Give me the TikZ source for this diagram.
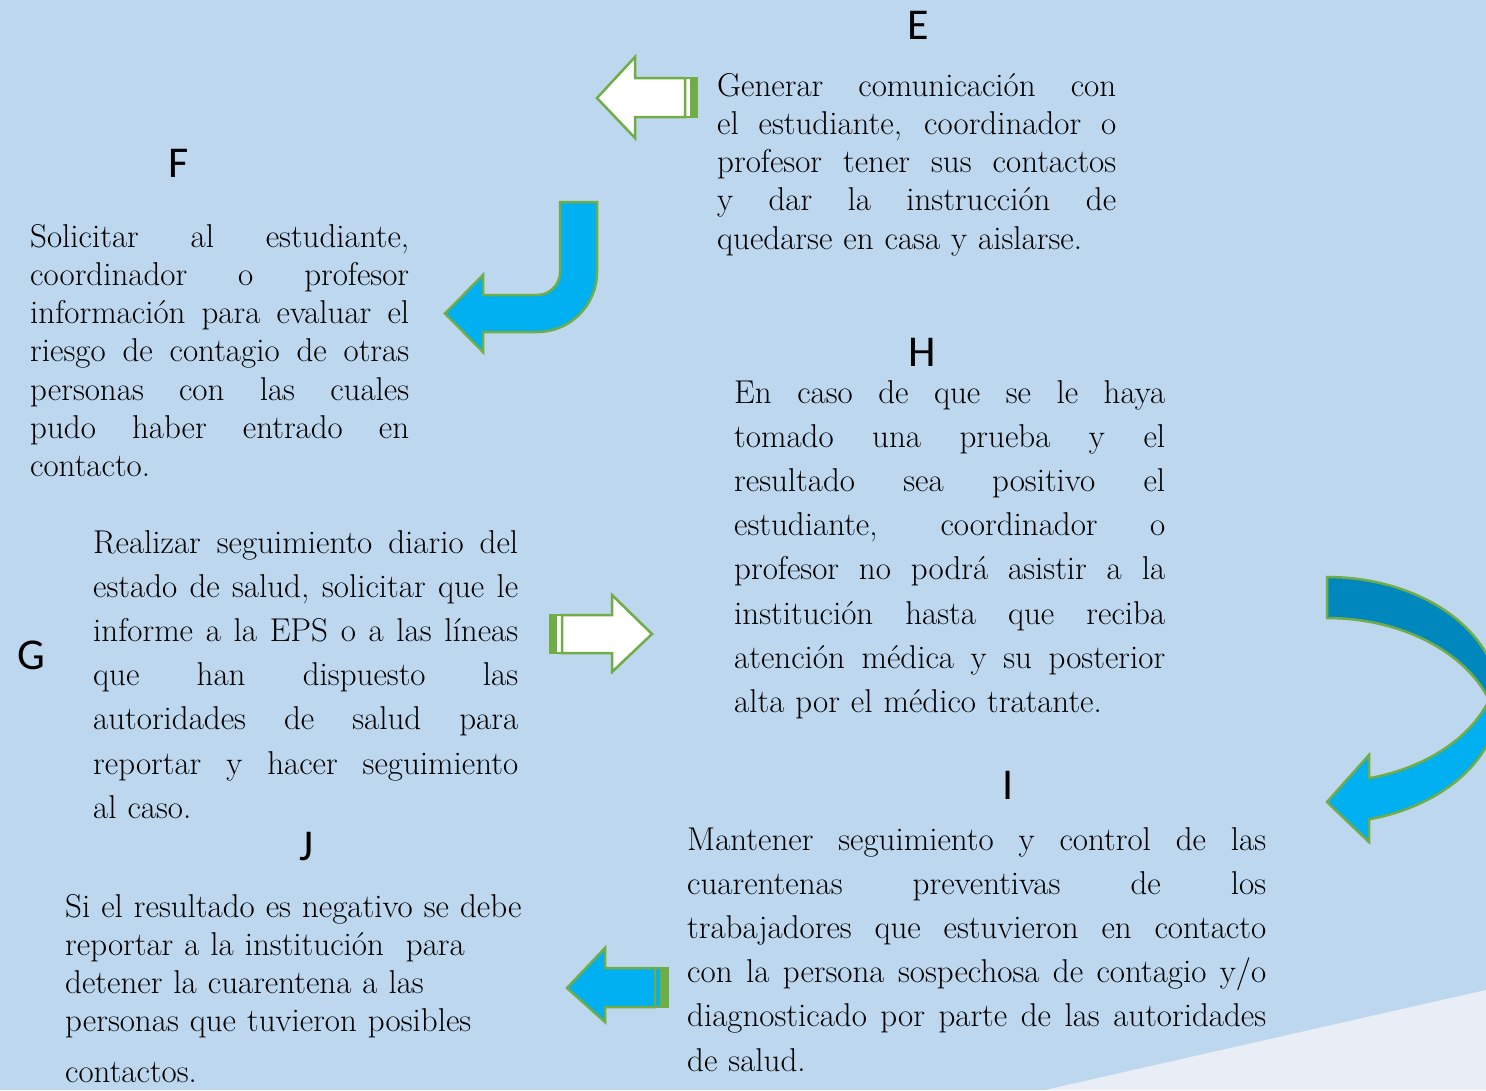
\documentclass[tikz,border=0pt]{standalone}
\usepackage{fontspec}
\newfontfamily\lblfont{Carlito}
\definecolor{bgblue}{RGB}{189,215,238}
\definecolor{paleblue}{RGB}{233,237,245}
\definecolor{agreen}{RGB}{112,173,71}
\definecolor{cyanblue}{RGB}{0,176,240}
\definecolor{deepblue}{RGB}{0,136,190}
\newlength{\jw}
\newcommand{\jl}[1]{\makebox[\jw][s]{\spaceskip=0pt\xspaceskip=0pt\relax #1}}
\begin{document}
\begin{tikzpicture}[x=1pt,y=-1pt,
  txt/.style={font=\fontsize{33}{38.3}\selectfont, anchor=base west, inner sep=0pt, align=left},
  txtwide/.style={txt, font=\fontsize{33}{44.2}\selectfont},
  lbl/.style={font=\lblfont\fontsize{44}{50}\selectfont, inner sep=0pt, anchor=center},
  shapeline/.style={draw=agreen, line width=2.5pt, line join=miter},
  whitearrow/.style={shapeline, fill=white},
  bluearrow/.style={shapeline, fill=cyanblue},
  darkband/.style={shapeline, fill=deepblue},
  stripe/.style={fill=agreen}
]
\useasboundingbox (0,0) rectangle (1486,1090);
\fill[bgblue] (0,0) rectangle (1486,1090);
\fill[paleblue] (1045,1090) -- (1486,990) -- (1486,1090) -- cycle;

% ---- labels ----
\node[lbl] (lE) at (918,25) {E};
\node[lbl] (lF) at (179,163) {F};
\node[lbl] (lG) at (31,655) {G};
\node[lbl] (lH) at (922,352) {H};
\node[lbl] (lI) at (1008,785) {I};
\node[lbl] (lJ) at (307,847) {J};

% ---- text blocks ----
\node[txt, text width=399pt] (tE) at (717,96) {\setlength{\jw}{399pt}%
\jl{Generar comunicación con}\\
\jl{el estudiante, coordinador o}\\
\jl{profesor tener sus contactos}\\
\jl{y dar la instrucción de}\\
quedarse en casa y aislarse.};

\node[txt, text width=379pt] (tF) at (30,247) {\setlength{\jw}{379pt}%
\jl{Solicitar al estudiante,}\\
\jl{coordinador o profesor}\\
\jl{información para evaluar el}\\
\jl{riesgo de contagio de otras}\\
\jl{personas con las cuales}\\
\jl{pudo haber entrado en}\\
contacto.};

\node[txtwide, text width=425pt] (tG) at (93,553) {\setlength{\jw}{425pt}%
\jl{Realizar seguimiento diario del}\\
\jl{estado de salud, solicitar que le}\\
\jl{informe a la EPS o a las líneas}\\
\jl{que han dispuesto las}\\
\jl{autoridades de salud para}\\
\jl{reportar y hacer seguimiento}\\
al caso.};

\node[txtwide, text width=431pt] (tH) at (734,403) {\setlength{\jw}{431pt}%
\jl{En caso de que se le haya}\\
\jl{tomado una prueba y el}\\
\jl{resultado sea positivo el}\\
\jl{estudiante, coordinador o}\\
\jl{profesor no podrá asistir a la}\\
\jl{institución hasta que reciba}\\
\jl{atención médica y su posterior}\\
alta por el médico tratante.};

\node[txtwide, text width=579pt] (tI) at (687,850) {\setlength{\jw}{579pt}%
\jl{Mantener seguimiento y control de las}\\
\jl{cuarentenas preventivas de los}\\
\jl{trabajadores que estuvieron en contacto}\\
\jl{con la persona sospechosa de contagio y/o}\\
\jl{diagnosticado por parte de las autoridades}\\
de salud.};

\node[txt, text width=480pt] (tJ) at (65,917) {%
Si el resultado es negativo se debe\\
reportar a la institución\ \ para\\
detener la cuarentena a las\\
personas que tuvieron posibles\\[12.6pt]
contactos.};

% ---- arrow E (white, pointing left) ----
\draw[whitearrow] (685,78) rectangle (697,117);
\fill[stripe] (690,78) rectangle (697,117);
\draw[whitearrow] (597,98) -- (635,57) -- (635,78) -- (685,78) -- (685,117)
  -- (635,117) -- (635,138) -- cycle;

% ---- bent arrow F (blue) ----
\draw[bluearrow] (560,202) -- (597,202) -- (597,272)
  -- plot[domain=0:90, samples=30, variable=\t] ({537+60*cos(\t)},{272+60*sin(\t)})
  -- (483,332) -- (483,352) -- (445,313.5) -- (483,275) -- (483,295) -- (537,295)
  -- plot[domain=90:0, samples=20, variable=\t] ({537+23*cos(\t)},{272+23*sin(\t)})
  -- cycle;

% ---- arrow G (white, pointing right) ----
\draw[whitearrow] (550,615) rectangle (562,653);
\fill[stripe] (550,615) rectangle (557,653);
\draw[whitearrow] (562,615) -- (612,615) -- (612,595) -- (652,634) -- (612,672)
  -- (612,653) -- (562,653) -- cycle;

% ---- arrow J (blue, pointing left) ----
\draw[bluearrow] (655,968) rectangle (668,1007);
\fill[stripe] (660,968) rectangle (668,1007);
\draw[bluearrow] (567,988) -- (605,948) -- (605,968) -- (655,968) -- (655,1007)
  -- (605,1007) -- (605,1022) -- cycle;

% ---- curved arrow H -> I ----
\begin{scope}
\clip (0,0) rectangle (1486,1090);
\draw[darkband] plot[domain=-90:0, samples=40, variable=\t] ({1327+172*cos(\t)},{700+123*sin(\t)})
  -- plot[domain=0:-90, samples=40, variable=\t] ({1327+172*cos(\t)},{741+123*sin(\t)})
  -- cycle;
\draw[bluearrow] plot[domain=0:75.8, samples=40, variable=\t] ({1327+172*cos(\t)},{659+123*sin(\t)})
  -- (1369,755) -- (1327,802) -- (1369,842)
  -- plot[domain=75.8:0, samples=40, variable=\t] ({1327+172*cos(\t)},{700+123*sin(\t)})
  -- cycle;
\end{scope}
\end{tikzpicture}
\end{document}
